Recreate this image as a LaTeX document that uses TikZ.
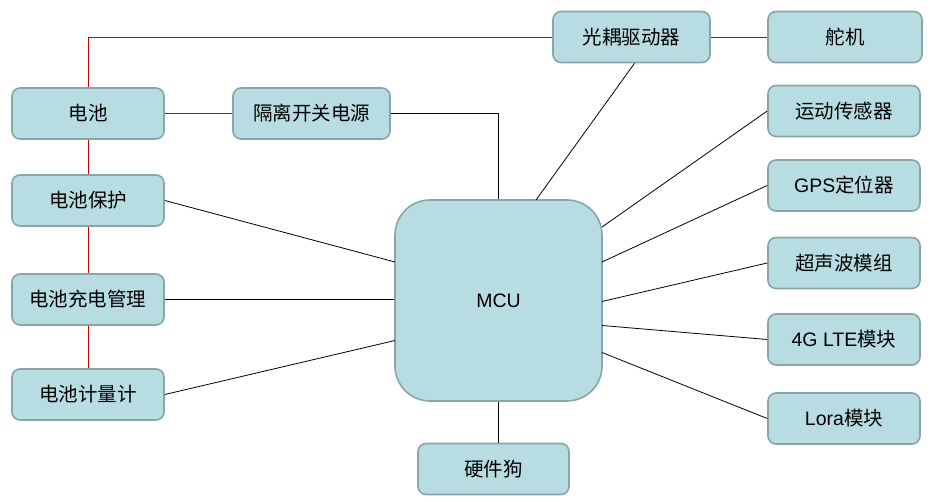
\documentclass[tikz,border=0pt]{standalone}
\usepackage{fontspec}
\setmainfont{Liberation Sans}
\newfontfamily\cjk{Noto Sans CJK SC}
\definecolor{boxfill}{RGB}{183,221,226}
\definecolor{boxline}{RGB}{138,165,168}
\definecolor{wirered}{RGB}{205,0,0}
\tikzset{
  unit/.style={draw=boxline, fill=boxfill, line width=1.6pt, rounded corners=8pt,
    minimum width=152pt, minimum height=51pt, inner sep=0pt,
    font=\fontsize{19.5}{22}\selectfont},
  power/.style={draw=wirered, line width=0.9pt},
  signal/.style={draw=black, line width=0.8pt}
}

\begin{document}
\begin{tikzpicture}[x=1pt,y=-1pt]
\useasboundingbox (0,0) rectangle (935,502);

  %battery chain
  \node[unit] (bat) at (88,113.5) {\cjk 电池};
  \node[unit] (batprot) at (88,200.5) {\cjk 电池保护};
  \node[unit] (batchg) at (88,299.5) {\cjk 电池充电管理};
  \node[unit] (batgauge) at (88,394.5) {\cjk 电池计量计};
  \node[unit, minimum width=157pt] (iso) at (311.5,113.5) {\cjk 隔离开关电源};

  %top row
  \node[unit, minimum width=157pt] (opto) at (631.5,37) {\cjk 光耦驱动器};
  \node[unit, minimum width=154pt] (servo) at (845,37) {\cjk 舵机};

  %MCU
  \node[unit, minimum width=207pt, minimum height=201pt, rounded corners=35pt] (mcu) at (498.5,300.5) {MCU};
  \node[unit, minimum width=151pt] (dog) at (493.5,469) {\cjk 硬件狗};

  %right column
  \node[unit] (motion) at (844,111) {\cjk 运动传感器};
  \node[unit] (gps) at (844,185.5) {GPS{\cjk 定位器}};
  \node[unit] (sonar) at (844,263) {\cjk 超声波模组};
  \node[unit] (lte) at (844,339.5) {4G LTE{\cjk 模块}};
  \node[unit] (lora) at (844,418.5) {Lora{\cjk 模块}};

  %points on the MCU edge
  \coordinate (mT) at (536,200);
  \coordinate (mL1) at (395,262);
  \coordinate (mL2) at (395,340.5);
  \coordinate (mR1) at (602,227);
  \coordinate (mR2) at (602,262);
  \coordinate (mR3) at (602,301.5);
  \coordinate (mR4) at (602,325.5);
  \coordinate (mR5) at (602,352.5);

  %power wiring
  \draw[power] (bat.north) |- (opto.west);
  \draw[power] (opto.east) -- (servo.west);
  \draw[power] (bat.east) -- (iso.west);
  \draw[power] (bat.south) -- (batprot.north);
  \draw[power] (batprot.south) -- (batchg.north);
  \draw[power] (batchg.south) -- (batgauge.north);

  %signal wiring
  \draw[signal] (iso.east) -| (mcu.north);
  \draw[signal] ([xshift=3pt]opto.south) -- (mT);
  \draw[signal] (batprot.east) -- (mL1);
  \draw[signal] (batchg.east) -- (batchg.east -| mcu.west);
  \draw[signal] (batgauge.east) -- (mL2);
  \draw[signal] (mcu.south) -- (mcu.south |- dog.north);
  \draw[signal] (mR1) -- (motion.west);
  \draw[signal] (mR2) -- (gps.west);
  \draw[signal] (mR3) -- (sonar.west);
  \draw[signal] (mR4) -- (lte.west);
  \draw[signal] (mR5) -- (lora.west);
\end{tikzpicture}
\end{document}
